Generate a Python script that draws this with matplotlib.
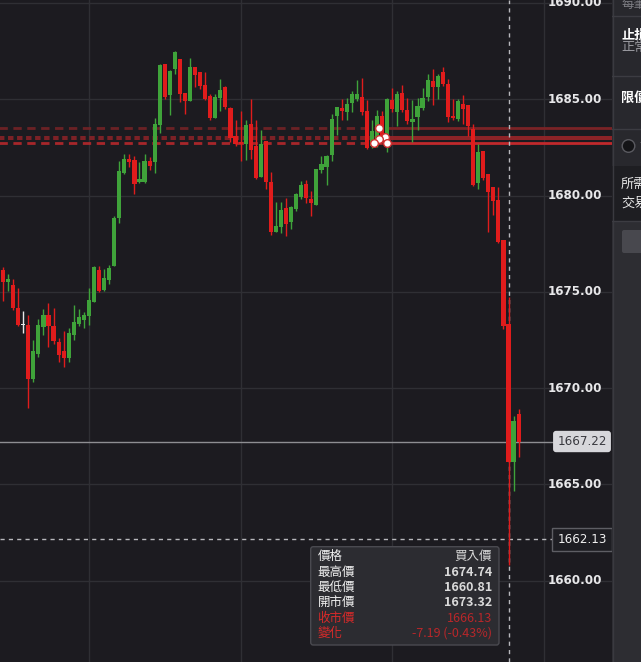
import numpy as np
import matplotlib.pyplot as plt
from matplotlib.patches import FancyBboxPatch, Rectangle, Circle
from matplotlib import transforms

plt.rcParams['font.family'] = ['Noto Sans CJK TC', 'DejaVu Sans']

# OHLC (oldest first)
opens = [1676.13, 1675.52, 1675.35, 1674.17, 1673.26, 1673.27, 1670.47, 1671.78, 1673.19, 1673.79,
         1673.22, 1672.39, 1671.92, 1671.57, 1672.77, 1673.32, 1673.53, 1673.74, 1674.48, 1676.13,
         1675.09, 1675.61, 1676.34, 1678.85, 1681.18, 1681.90, 1681.84, 1680.72, 1680.70, 1681.79,
         1681.74, 1683.66, 1686.83, 1685.22, 1686.57, 1687.09, 1685.32, 1684.91, 1686.68, 1686.42,
         1685.74, 1685.17, 1684.03, 1685.06, 1685.64, 1684.55, 1683.09, 1682.78, 1682.68, 1683.71,
         1682.57, 1680.96, 1682.83, 1680.70, 1678.12, 1678.38, 1679.35, 1678.64, 1679.31, 1679.94,
         1680.60, 1679.82, 1679.52, 1681.32, 1681.50, 1682.10, 1684.13, 1684.55, 1684.34, 1684.81,
         1685.01, 1685.12, 1684.39, 1682.57, 1682.68, 1684.13, 1682.54, 1684.96, 1684.34, 1685.32,
         1684.44, 1683.82, 1684.06, 1684.55, 1685.13, 1685.96, 1685.65, 1686.42, 1685.79, 1684.13,
         1683.97, 1684.75, 1684.70, 1683.45, 1680.66, 1682.31, 1681.12, 1680.44, 1679.77, 1677.69,
         1673.32, 1666.17, 1668.65]
highs = [1676.30, 1675.92, 1675.66, 1675.21, 1674.00, 1673.79, 1672.49, 1673.58, 1674.09, 1674.42,
         1674.14, 1672.58, 1672.96, 1673.10, 1674.31, 1674.10, 1673.95, 1675.19, 1676.34, 1676.34,
         1676.18, 1676.39, 1678.94, 1681.81, 1682.16, 1682.16, 1682.05, 1681.74, 1682.16, 1682.00,
         1684.03, 1686.83, 1686.83, 1686.52, 1687.51, 1687.09, 1685.32, 1687.14, 1686.68, 1686.42,
         1686.42, 1685.27, 1685.27, 1686.05, 1685.69, 1684.60, 1683.92, 1684.39, 1683.92, 1685.01,
         1683.92, 1683.40, 1682.83, 1681.22, 1679.66, 1679.66, 1679.87, 1679.45, 1680.13, 1680.75,
         1680.81, 1680.23, 1681.38, 1682.05, 1682.10, 1684.23, 1684.60, 1685.01, 1685.06, 1685.43,
         1686.00, 1686.10, 1684.96, 1683.92, 1684.44, 1684.39, 1685.06, 1685.58, 1685.43, 1685.74,
         1685.06, 1684.96, 1685.06, 1685.58, 1686.31, 1686.57, 1686.31, 1686.68, 1686.05, 1685.01,
         1685.01, 1685.22, 1684.70, 1683.71, 1682.68, 1682.31, 1681.12, 1680.44, 1680.46, 1677.69,
         1674.74, 1668.55, 1668.91]
lows = [1674.53, 1675.04, 1674.05, 1673.22, 1672.87, 1668.98, 1670.33, 1671.63, 1672.75, 1672.15,
        1672.29, 1671.37, 1671.11, 1671.37, 1672.51, 1673.22, 1673.13, 1673.27, 1674.47, 1674.99,
        1675.04, 1675.40, 1676.34, 1678.59, 1681.12, 1681.50, 1680.08, 1680.67, 1680.65, 1681.34,
        1681.17, 1683.26, 1685.01, 1684.18, 1686.31, 1684.86, 1684.23, 1684.91, 1685.64, 1685.53,
        1684.96, 1683.92, 1684.03, 1684.39, 1684.49, 1682.78, 1682.57, 1681.79, 1681.84, 1681.90,
        1680.86, 1680.96, 1680.34, 1677.95, 1678.12, 1678.07, 1677.91, 1678.28, 1679.21, 1679.83,
        1679.63, 1678.95, 1679.52, 1681.17, 1680.55, 1681.79, 1683.14, 1683.92, 1683.92, 1684.34,
        1684.91, 1684.18, 1682.42, 1682.47, 1682.50, 1682.88, 1682.28, 1684.34, 1683.61, 1684.34,
        1683.71, 1682.78, 1683.40, 1684.44, 1684.92, 1684.70, 1685.01, 1685.69, 1683.82, 1683.92,
        1683.87, 1683.71, 1683.09, 1680.49, 1680.34, 1680.80, 1678.12, 1679.00, 1677.55, 1673.06,
        1660.81, 1664.66, 1666.43]
closes = [1675.52, 1675.66, 1674.17, 1673.27, 1673.26, 1670.47, 1671.92, 1673.27, 1673.79, 1673.24,
          1672.46, 1671.71, 1671.57, 1672.86, 1673.43, 1673.69, 1673.79, 1674.57, 1676.27, 1675.05,
          1675.71, 1676.23, 1678.82, 1681.27, 1681.90, 1681.74, 1680.60, 1680.86, 1681.79, 1681.55,
          1683.71, 1686.78, 1685.12, 1686.47, 1687.45, 1685.27, 1684.91, 1686.68, 1686.26, 1685.69,
          1685.01, 1684.03, 1685.12, 1685.48, 1684.60, 1682.99, 1682.68, 1682.68, 1683.66, 1682.36,
          1680.91, 1682.68, 1680.70, 1678.12, 1678.42, 1679.25, 1678.54, 1679.40, 1680.08, 1680.55,
          1679.89, 1679.63, 1681.38, 1681.64, 1682.05, 1683.97, 1684.60, 1684.39, 1684.75, 1685.27,
          1685.27, 1684.34, 1682.47, 1683.35, 1684.13, 1682.99, 1685.01, 1684.49, 1685.27, 1684.44,
          1683.87, 1683.97, 1684.65, 1685.06, 1686.00, 1685.65, 1686.21, 1685.79, 1684.09, 1684.03,
          1684.91, 1684.49, 1683.63, 1680.55, 1682.26, 1680.92, 1680.20, 1679.73, 1677.60, 1673.24,
          1666.13, 1668.29, 1667.22]

price_ticks = [1660, 1665, 1670, 1675, 1680, 1685, 1690]
time_grid = [17, 47, 77, 107]

# order lines and their anchor dots
order_levels = [1683.52, 1683.04, 1682.95, 1682.74]
order_colors = ['#7a2326', '#9a2428', '#9a2428', '#c0292c']
order_widths = [2.0, 1.3, 1.3, 2.0]
anchor_x = [74.4, 75.6, 74.3, 73.4, 75.9]
anchor_y = [1683.52, 1683.04, 1682.95, 1682.74, 1682.74]

last_price = 1667.22
cross_idx = 100
cross_price = 1662.13

tip_labels = ['價格', '最高價', '最低價', '開市價', '收市價', '變化']
tip_values = ['買入價', '1674.74', '1660.81', '1673.32', '1666.13', '-7.19 (-0.43%)']

bg = '#1c1b20'
up = '#3fa33a'
down = '#e01c1c'

fig = plt.figure(figsize=(6.41, 6.62), dpi=100, facecolor=bg)
W, H = 641, 662
cw = 612
ax = fig.add_axes([0, 0, cw / W, 1])
ax.set_facecolor(bg)
for s in ax.spines.values():
    s.set_visible(False)
ax.set_xticks([])
ax.set_yticks([])

step = 5.055
ax.set_xlim(-3 / step, (cw - 3) / step)
ax.set_ylim(1690 - (H - 3) / 19.25, 1690 + 3 / 19.25)

for p in price_ticks:
    ax.axhline(p, color='#2f2f34', lw=1, zorder=0)
for t in time_grid:
    ax.axvline(t, color='#2f2f34', lw=1, zorder=0)

# order lines: dashed left of the anchor, solid right of it
split = 75.8
for lev, col, lw in zip(order_levels, order_colors, order_widths):
    ax.plot([-1, split], [lev, lev], color=col, lw=lw, ls=(0, (3, 2)), alpha=0.85, zorder=1)
    ax.plot([split, 130], [lev, lev], color=col, lw=lw, zorder=1)

# crosshair and last price line
ax.axvline(cross_idx, color='#b8b8bc', lw=1, ls=(0, (3, 3)), zorder=1)
ax.axhline(cross_price, xmax=552 / cw, color='#b8b8bc', lw=1, ls=(0, (3, 3)), zorder=1)
ax.axhline(last_price, xmax=556 / cw, color='#8e8e92', lw=1, zorder=1)

# candles
o = np.array(opens)
h = np.array(highs)
l = np.array(lows)
c = np.array(closes)
x = np.arange(len(o))
cols = np.where(c > o, up, np.where(c < o, down, '#e8e8e8'))
ax.vlines(x, l, h, colors=cols, lw=1, zorder=3)
body = np.maximum(np.abs(c - o), 0.05)
ax.bar(x, body, bottom=np.minimum(o, c), width=0.82, color=cols, linewidth=0, zorder=4)

ax.plot(anchor_x, anchor_y, 'o', ms=5.5, mfc='white', mec='#d03030', mew=1.0, zorder=5, ls='none')

# price axis labels
tr = transforms.blended_transform_factory(ax.transAxes, ax.transData)
for p in price_ticks:
    ax.text(602 / cw, p, f'{p:.2f}', transform=tr, ha='right', va='center',
            color='#e8e8ea', fontsize=8.6, fontweight='bold', family=['DejaVu Sans'], zorder=6)

ax.text(582 / cw, last_price, f'{last_price:.2f}', transform=tr, ha='center', va='center',
        color='#3a3a40', fontsize=8.6, family=['DejaVu Sans'], zorder=7,
        bbox=dict(boxstyle='round,pad=0.35,rounding_size=0.25', fc='#d7d7db', ec='none'))
ax.text(582 / cw, cross_price, f'{cross_price:.2f}', transform=tr, ha='center', va='center',
        color='#f0f0f0', fontsize=8.6, family=['DejaVu Sans'], zorder=7,
        bbox=dict(boxstyle='square,pad=0.42', fc='#1e1e23', ec='#5e5e64', lw=1))

# tooltip
x0, x1 = 310.7, 499
y0, y1 = 546.7, 645
ax.add_patch(FancyBboxPatch((x0 / cw, 1 - y1 / H), (x1 - x0) / cw, (y1 - y0) / H,
                            boxstyle='round,pad=0,rounding_size=0.004', transform=ax.transAxes,
                            fc='#2c2c31', ec='#4a4a50', lw=1, zorder=8))
row_y = [556.7, 572.4, 587.6, 602.8, 618.0, 633.0]
for i, (lab, val) in enumerate(zip(tip_labels, tip_values)):
    red = i >= 4
    lc = '#d62a2a' if red else '#f2f2f2'
    vc = '#b8272a' if red else '#dadada'
    wt = 'bold' if 1 <= i <= 3 else 'normal'
    ax.text(317.5 / cw, 1 - row_y[i] / H, lab, transform=ax.transAxes, ha='left', va='center',
            color=lc, fontsize=9, zorder=9)
    ax.text(492 / cw, 1 - row_y[i] / H, val, transform=ax.transAxes, ha='right', va='center',
            color=vc, fontsize=9, fontweight=wt, zorder=9)

# right side panel (cut off)
pn = fig.add_axes([cw / W, 0, (W - cw) / W, 1])
pn.set_xlim(cw, W)
pn.set_ylim(H, 0)
pn.axis('off')
pn.add_patch(Rectangle((cw, 0), W - cw, H, fc='#2d2d32', ec='none'))
pn.add_patch(Rectangle((cw, 0), W - cw, 166, fc='#28282d', ec='none'))
pn.add_patch(Rectangle((cw, 166), W - cw, 55, fc='#1e1e22', ec='none'))
pn.plot([cw + 0.5, cw + 0.5], [0, H], color='#3a3a40', lw=1)
for yy in [16, 76, 129, 221]:
    pn.plot([cw, W], [yy, yy], color='#3c3c42', lw=1)
pn.text(621, 4, '每筆交易', color='#7e7e84', fontsize=9, va='center', ha='left')
pn.text(621, 35, '止損設定', color='#ffffff', fontsize=9.5, fontweight='bold', va='center', ha='left')
pn.text(621, 48, '正常', color='#9a9aa0', fontsize=9.5, va='center', ha='left')
pn.text(621, 98, '限價設定', color='#ffffff', fontsize=9.5, fontweight='bold', va='center', ha='left')
pn.add_patch(Circle((628.5, 146), 6.3, fc='#141417', ec='#5a5a60', lw=1))
pn.text(639, 146, '沽', color='#e0e0e0', fontsize=9.5, va='center', ha='left')
pn.text(621, 184, '所需保證金', color='#e6e6e6', fontsize=9.5, va='center', ha='left')
pn.text(621, 203, '交易金額', color='#e6e6e6', fontsize=9.5, va='center', ha='left')
pn.add_patch(FancyBboxPatch((622, 230), 30, 23, boxstyle='round,pad=0,rounding_size=2',
                            fc='#48484e', ec='none'))

fig.savefig('out.png', dpi=100, facecolor=bg)
